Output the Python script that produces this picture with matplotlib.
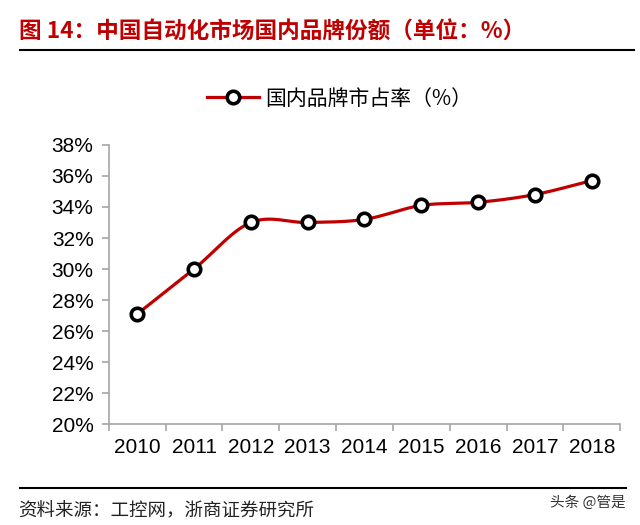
import matplotlib
matplotlib.use('Agg')
import matplotlib.pyplot as plt
from matplotlib.lines import Line2D
import numpy as np

plt.rcParams['font.family'] = ['Liberation Sans', 'Noto Sans CJK SC', 'DejaVu Sans']

# 数据
years = ['2010', '2011', '2012', '2013', '2014', '2015', '2016', '2017', '2018']
share = [27.1, 30.0, 33.0, 33.0, 33.2, 34.1, 34.3, 34.8, 35.7]
yticks = [20, 22, 24, 26, 28, 30, 32, 34, 36, 38]

red = '#C00000'


def smooth(x, y, n=30):
    # Catmull-Rom 样条, 类似 Excel 平滑线
    x = np.asarray(x, float)
    y = np.asarray(y, float)
    px = np.concatenate([[2 * x[0] - x[1]], x, [2 * x[-1] - x[-2]]])
    py = np.concatenate([[2 * y[0] - y[1]], y, [2 * y[-1] - y[-2]]])
    xs, ys = [], []
    t = np.linspace(0, 1, n)
    for i in range(1, len(px) - 2):
        for p, out in ((px, xs), (py, ys)):
            p0, p1, p2, p3 = p[i - 1], p[i], p[i + 1], p[i + 2]
            out.extend(0.5 * ((2 * p1) + (-p0 + p2) * t
                              + (2 * p0 - 5 * p1 + 4 * p2 - p3) * t ** 2
                              + (-p0 + 3 * p1 - 3 * p2 + p3) * t ** 3))
    return xs, ys


fig = plt.figure(figsize=(6.4, 5.25), dpi=100)
ax = fig.add_axes([0.170, 0.192, 0.799, 0.532])

x = np.arange(len(years))
sx, sy = smooth(x, share)
ax.plot(sx, sy, color=red, lw=2.3, zorder=2, solid_capstyle='round')
ax.plot(x, share, ls='none', marker='o', ms=9, mfc='white', mec='black',
        mew=2.6, zorder=3)

ax.set_xlim(-0.5, len(years) - 0.5)
ax.set_ylim(20, 38)
ax.set_yticks(yticks)
ax.set_yticklabels([f'{v}%' for v in yticks], fontsize=15)
ax.set_xticks(x)
ax.set_xticklabels(years, fontsize=15)
ax.set_xticks(np.arange(len(years) + 1) - 0.5, minor=True)
ax.tick_params(axis='x', which='major', length=0, pad=10)
ax.tick_params(axis='x', which='minor', length=5, color='#A6A6A6', width=1.2, direction='out')
ax.tick_params(axis='y', length=5, color='#A6A6A6', width=1.2, direction='out', pad=6)

for s in ['top', 'right']:
    ax.spines[s].set_visible(False)
for s in ['left', 'bottom']:
    ax.spines[s].set_color('#A6A6A6')
    ax.spines[s].set_linewidth(1.2)

# 图例
handle = Line2D([], [], color=red, lw=2.3, marker='o', ms=9, mfc='white',
                mec='black', mew=2.6)
fig.legend([handle], ['国内品牌市占率（%）'], loc='center', bbox_to_anchor=(0.53, 0.812),
           frameon=False, handlelength=2.5, handletextpad=0.3,
           prop={'family': ['Noto Sans CJK SC', 'DejaVu Sans'], 'size': 15})

# 标题
fig.text(0.030, 0.938, '图 14：中国自动化市场国内品牌份额（单位：%）', color=red,
         fontsize=16.3, fontweight='bold', va='center', ha='left',
         family=['Noto Sans CJK SC', 'DejaVu Sans'])
fig.add_artist(Line2D([0.031, 0.991], [0.904, 0.904], color='black', lw=1.5))

# 底部
fig.add_artist(Line2D([0.031, 0.978], [0.070, 0.070], color='black', lw=1.5))
fig.text(0.028, 0.026, '资料来源：工控网，浙商证券研究所', fontsize=13.3, va='center',
         ha='left', color='#222222', family=['Noto Sans CJK SC', 'DejaVu Sans'])
fig.text(0.977, 0.042, '头条 @管是', fontsize=10.5, va='center', ha='right',
         color='#333333', family=['Noto Sans CJK SC', 'DejaVu Sans'])

fig.savefig('out.png', dpi=100)
